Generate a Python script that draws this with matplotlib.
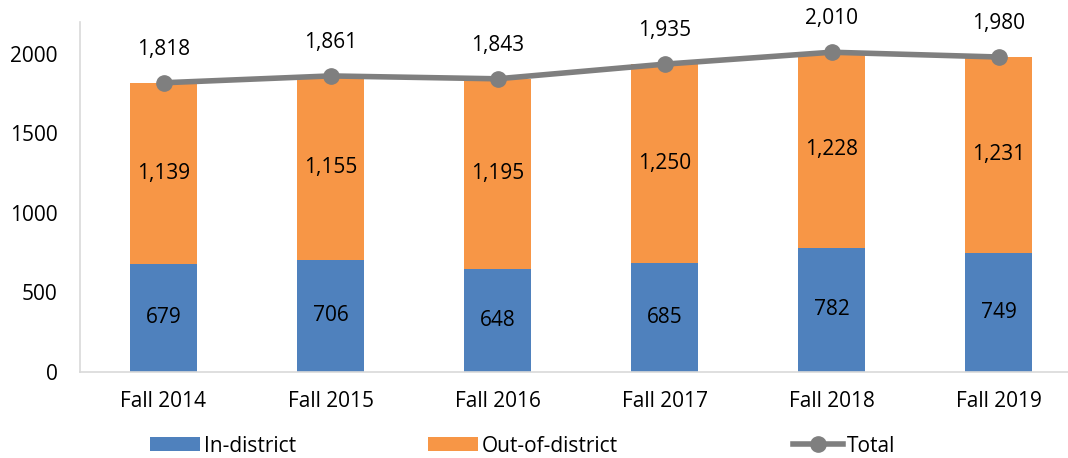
import numpy as np
import matplotlib.pyplot as plt

categories = ['Fall 2014', 'Fall 2015', 'Fall 2016', 'Fall 2017', 'Fall 2018', 'Fall 2019']
in_district = [679, 706, 648, 685, 782, 749]
out_district = [1139, 1155, 1195, 1250, 1228, 1231]
total = [1818, 1861, 1843, 1935, 2010, 1980]

blue = '#4F81BD'
orange = '#F79646'
gray = '#7F7F7F'

plt.rcParams['font.family'] = ['Open Sans', 'DejaVu Sans']
fs = 15

fig = plt.figure(figsize=(10.68, 4.58), dpi=100)
ax = fig.add_axes([80 / 1068, 1 - 372 / 458, 1002 / 1068, (372 - 22) / 458])

x = np.arange(len(categories))
w = 0.4
b1 = ax.bar(x, in_district, w, color=blue, label='In-district')
b2 = ax.bar(x, out_district, w, bottom=in_district, color=orange, label='Out-of-district')
ln, = ax.plot(x, total, color=gray, lw=4, marker='o', ms=11, label='Total', clip_on=False, zorder=5)

for i in range(len(x)):
    ax.text(x[i], in_district[i] / 2, f'{in_district[i]:,}', ha='center', va='center', fontsize=fs)
    ax.text(x[i], in_district[i] + out_district[i] / 2, f'{out_district[i]:,}', ha='center', va='center', fontsize=fs)
    ax.text(x[i], total[i] + 210, f'{total[i]:,}', ha='center', va='center', fontsize=fs)

ax.set_xlim(-0.5, 5.5)
ax.set_ylim(0, 2200)
ax.set_yticks([0, 500, 1000, 1500, 2000])
ax.set_xticks(x)
ax.set_xticklabels(categories)
ax.tick_params(length=0, labelsize=fs)
ax.tick_params(axis='x', pad=14)
ax.tick_params(axis='y', pad=16)
for s in ['top', 'right']:
    ax.spines[s].set_visible(False)
for s in ['left', 'bottom']:
    ax.spines[s].set_color('#D9D9D9')
    ax.spines[s].set_linewidth(1.2)

# three legend entries placed like the original
for h, xpos in [(b1, 150), (b2, 428), (ln, 793)]:
    fig.legend(handles=[h], loc='center left', bbox_to_anchor=(xpos / 1068, 1 - 446 / 458),
               frameon=False, fontsize=fs, borderpad=0, borderaxespad=0,
               handlelength=2.4, handleheight=0.65, handletextpad=0.2)

fig.savefig('out.png', dpi=100)
